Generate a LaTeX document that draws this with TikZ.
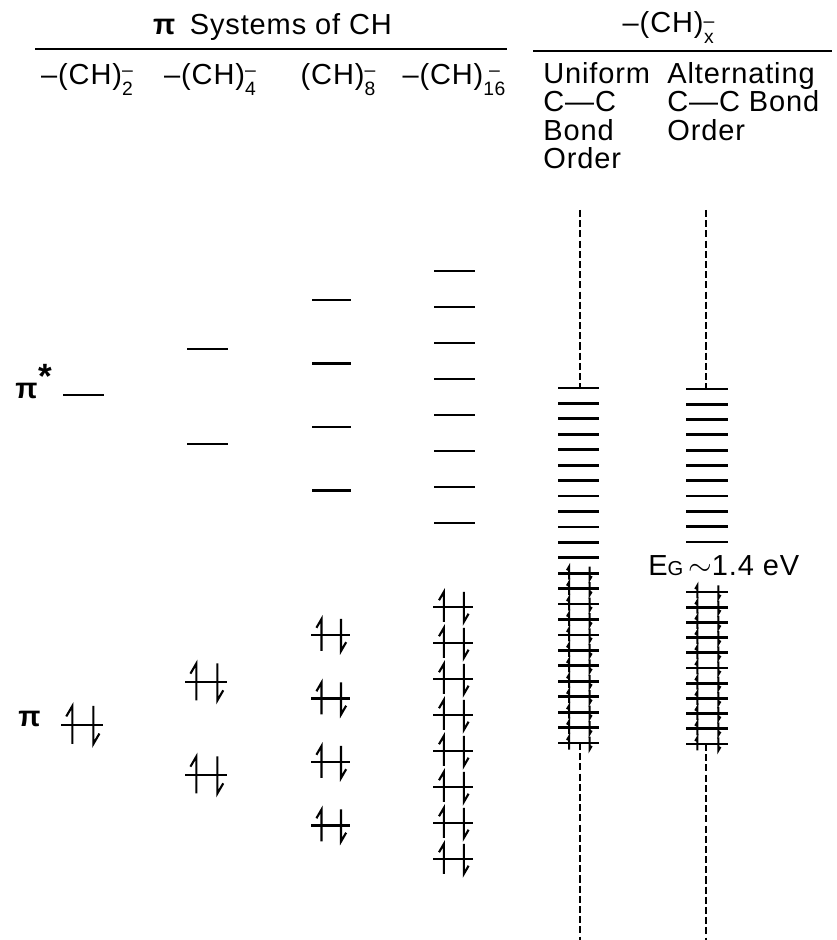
\documentclass[tikz,border=0pt]{standalone}
\usepackage{fontspec}
\setmainfont{Liberation Sans}[LetterSpace=3]
\usetikzlibrary{calc}

% charge over chain length, hung below the baseline
\newcommand{\chsub}[1]{\raisebox{-0.36em}{\fontsize{11}{11}\selectfont\shortstack{--\\#1}}}
% filled level: left x, right x, y, half height of the spins
\newcommand{\spinpair}[4]{%
    \draw[orb] (#1,{#3}) -- (#2,{#3});
    \draw[spin] ({0.73*#1+0.27*#2},{#3-#4}) -- ++(0,{2*#4}) -- ++({-0.32*#4},{-0.55*#4});
    \draw[spin] ({0.23*#1+0.77*#2},{#3+#4}) -- ++(0,{-2*#4}) -- ++({0.32*#4},{0.55*#4});
}

\begin{document}
\begin{tikzpicture}[
    orb/.style={line width=1.6pt},
    spin/.style={line width=1.2pt},
    hrule/.style={line width=1pt},
    guide/.style={line width=0.9pt, dash pattern=on 4pt off 1.8pt},
    txt/.style={inner sep=0pt, font=\fontsize{16.5}{16.2}\selectfont},
]
    \useasboundingbox (0,0) rectangle (16.72,18.8);

    % headings
    \node[txt, anchor=base] (title) at (5.45,18.1) {\textbf{π}\, Systems of CH};
    \node[txt, anchor=base] (polyhead) at (13.37,18.14) {--(CH)\chsub{x}};
    \draw[hrule] (0.7,17.82) -- (10.14,17.82);
    \draw[hrule] (10.66,17.78) -- (16.64,17.78);

    \node[txt, anchor=base] (c2) at (1.74,17.1) {--(CH)\chsub{2}};
    \node[txt, anchor=base] (c4) at (4.2,17.1) {--(CH)\chsub{4}};
    \node[txt, anchor=base] (c8) at (6.76,17.1) {(CH)\chsub{8}};
    \node[txt, anchor=base] (c16) at (9.08,17.1) {--(CH)\chsub{16}};
    \node[txt, anchor=north west, align=left] (uniform) at (10.86,17.56) {Uniform\\C---C\\Bond\\Order};
    \node[txt, anchor=north west, align=left] (alternating) at (13.34,17.56) {Alternating\\C---C Bond\\Order};

    \node[txt, anchor=base west] (pistar) at (0.3,10.82) {\textbf{π}\raisebox{0.35em}{\fontsize{20}{20}\selectfont\textbf{*}}};
    \node[txt, anchor=base west] (pi) at (0.36,4.26) {\textbf{π}};
    \node[txt, anchor=base west] (gap) at (12.96,7.28) {E{\fontsize{11.5}{11.5}\selectfont G}\,$\sim$1.4 eV};

    % (CH)2
    \draw[orb] (1.26,10.9) -- (2.08,10.9);
    \spinpair{1.22}{2.06}{4.3}{0.38}

    % (CH)4
    \foreach \y in {11.82,9.92}
        \draw[orb] (3.74,\y) -- (4.56,\y);
    \foreach \y in {5.16,3.3}
        {\spinpair{3.7}{4.54}{\y}{0.37}}

    % (CH)8
    \foreach \i in {0,...,3}
        \draw[orb] (6.24,{12.8-1.27*\i}) -- (7.02,{12.8-1.27*\i});
    \foreach \i in {0,...,3}
        {\spinpair{6.22}{7.0}{6.1-1.27*\i}{0.32}}

    % (CH)16
    \foreach \i in {0,...,7}
        \draw[orb] (8.68,{13.38-0.72*\i}) -- (9.5,{13.38-0.72*\i});
    \foreach \i in {0,...,7}
        {\spinpair{8.66}{9.46}{6.66-0.72*\i}{0.3}}

    % uniform band
    \foreach \i in {0,...,11}
        \draw[orb] (11.16,{11.04-0.3087*\i}) -- (11.98,{11.04-0.3087*\i});
    \foreach \i in {12,...,23}
        {\spinpair{11.16}{11.98}{11.04-0.3087*\i}{0.13}}
    \coordinate (utop) at (11.6,14.6);
    \coordinate (uhi) at (11.6,11.04);
    \coordinate (ulo) at (11.6,3.94);
    \coordinate (ubot) at (11.6,0);
    \draw[guide] (utop) -- (uhi);
    \draw[guide] (ulo) -- (ubot);

    % alternating band
    \foreach \i in {0,...,10}
        \draw[orb] (13.72,{11.02-0.306*\i}) -- (14.56,{11.02-0.306*\i});
    \foreach \i in {0,...,10}
        {\spinpair{13.72}{14.56}{6.96-0.304*\i}{0.13}}
    \coordinate (atop) at (14.12,14.6);
    \coordinate (ahi) at (14.12,11.02);
    \coordinate (alo) at (14.12,3.92);
    \coordinate (abot) at (14.12,0);
    \draw[guide] (atop) -- (ahi);
    \draw[guide] (alo) -- (abot);
\end{tikzpicture}
\end{document}
